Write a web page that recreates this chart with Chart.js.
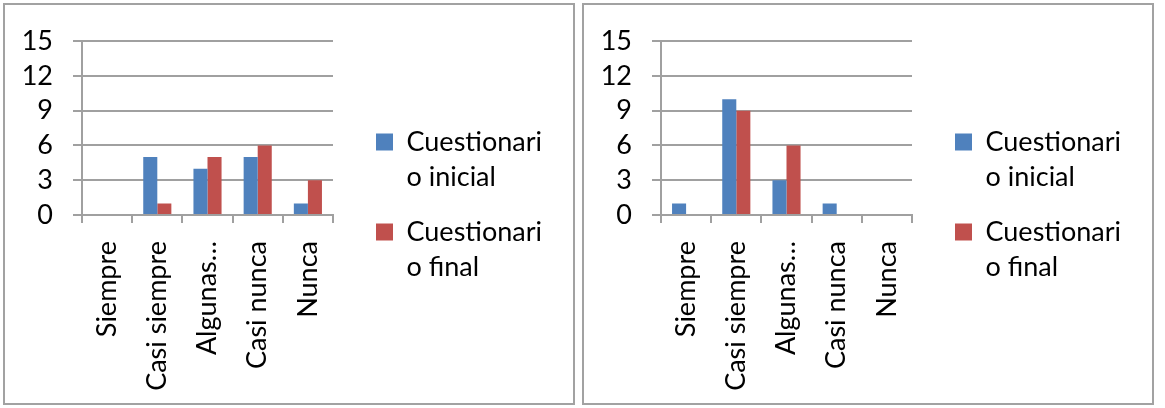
<!DOCTYPE html>
<html>
<head>
<meta charset="utf-8">
<script src="https://cdn.jsdelivr.net/npm/chart.js@4"></script>
<style>
  body { margin: 0; background: #fff; }
  .box { position: absolute; top: 3px; width: 568px; height: 398px; border: 2px solid #a2a2a2; }
  canvas { display: block; }
</style>
</head>
<body>
<div class="box" style="left:3px"><canvas id="chartA" width="568" height="398"></canvas></div>
<div class="box" style="left:582px"><canvas id="chartB" width="568" height="398"></canvas></div>
<script>
// categorías y valores
const categories = ['Siempre', 'Casi siempre', 'Algunas veces', 'Casi nunca', 'Nunca'];
const seriesNames = ['Cuestionario inicial', 'Cuestionario final'];
const legendLines = [['Cuestionari', 'o inicial'], ['Cuestionari', 'o final']];
const inicialA = [0, 5, 4, 5, 1];
const finalA = [0, 1, 5, 6, 3];
const inicialB = [1, 10, 3, 1, 0];
const finalB = [0, 9, 6, 0, 0];
const yTicks = [0, 3, 6, 9, 12, 15];

const colors = ['#4f81bd', '#c0504d'];
const GRID = '#a0a0a0';
const FS = 27;
const font = { family: 'Lato', size: FS };

// medir la leyenda para dejarla donde está en el original
const mctx = document.createElement('canvas').getContext('2d');
mctx.font = FS + 'px Lato';
const legendW = 20 + 17 + FS / 2 + mctx.measureText('Cuestionari').width + 10;
const padRight = 568 - 351 - legendW;

function makeChart(id, inicial, final) {
  return new Chart(document.getElementById(id), {
    type: 'bar',
    data: {
      labels: categories,
      datasets: [
        { label: seriesNames[0], data: inicial, backgroundColor: colors[0], yAxisID: 'y' },
        { label: seriesNames[1], data: final, backgroundColor: colors[1], yAxisID: 'y' }
      ]
    },
    options: {
      responsive: false,
      animation: false,
      categoryPercentage: 0.56,
      barPercentage: 1,
      layout: { padding: { top: 33, left: 0, right: padRight, bottom: 0 } },
      plugins: {
        tooltip: { enabled: false },
        legend: {
          position: 'right',
          align: 'start',
          maxWidth: 1000,
          // título vacío solo para bajar las entradas
          title: { display: true, text: ' ', font: { size: 10, lineHeight: 1 }, padding: { top: 60.5, bottom: 0 } },
          labels: {
            boxWidth: 17,
            boxHeight: 17,
            padding: 20,
            color: '#000',
            font: { family: 'Lato', size: FS, lineHeight: 35 / FS },
            generateLabels: chart => chart.data.datasets.map((ds, i) => ({
              text: legendLines[i],
              fillStyle: ds.backgroundColor,
              strokeStyle: ds.backgroundColor,
              lineWidth: 0,
              hidden: false,
              datasetIndex: i,
              fontColor: '#000'
            }))
          }
        }
      },
      scales: {
        x: {
          grid: { display: true, drawOnChartArea: false, offset: true, tickLength: 8, color: GRID, lineWidth: 2 },
          border: { color: GRID, width: 2 },
          ticks: {
            minRotation: 90, maxRotation: 90, autoSkip: false, padding: 18, color: '#000', font: font,
            callback: function (v) {
              const t = this.getLabelForValue(v);
              return t.length > 12 ? t.split(' ')[0] + '…' : t;
            }
          },
          afterFit: s => { s.height = 188; }
        },
        y: {
          min: 0, max: 15,
          afterBuildTicks: s => { s.ticks = yTicks.map(v => ({ value: v })); },
          grid: { color: GRID, lineWidth: 2, tickLength: 9 },
          border: { color: GRID, width: 2 },
          ticks: { autoSkip: false, padding: 20, color: '#000', font: font },
          afterFit: s => { s.width = 77; }
        },
        yPad: {
          position: 'right',
          grid: { display: false },
          border: { display: false },
          ticks: { display: false },
          afterFit: s => { s.width = 23; }
        }
      }
    }
  });
}

makeChart('chartA', inicialA, finalA);
makeChart('chartB', inicialB, finalB);
</script>
</body>
</html>
